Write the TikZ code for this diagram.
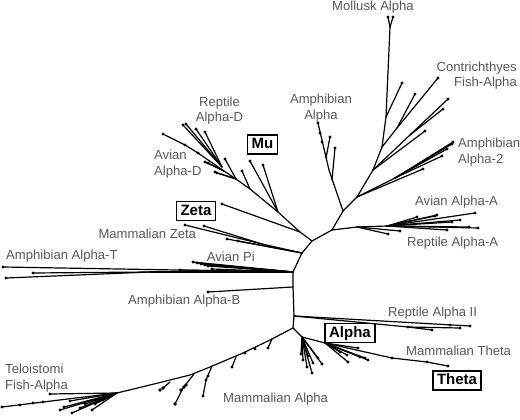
\documentclass[tikz,border=0pt]{standalone}
\usepackage{fontspec}
\setmainfont{Liberation Sans}
\usetikzlibrary{positioning}

\begin{document}
\begin{tikzpicture}[
  x=1pt, y=-1pt,
  branch/.style={line width=1.2pt, line cap=round, line join=round},
  lbl/.style={text=black!66, font=\fontsize{13.1}{15.5}\selectfont, inner sep=0pt},
  tag/.style={draw, line width=1.4pt, font=\bfseries\fontsize{15}{17}\selectfont,
              inner xsep=4pt, inner ysep=2.5pt, text height=11pt, text depth=3pt}
]
\useasboundingbox (0,0) rectangle (520,420);

% Central ring
\coordinate (n1) at (300,232);
\coordinate (c0) at (312,241);
\coordinate (p0) at (332,230);
\coordinate (q0) at (343,211);
\coordinate (r0) at (357,197);
\coordinate (s0) at (373,170);
\coordinate (t0) at (382,147);
\coordinate (d0) at (302,253);
\coordinate (e0) at (293,272);
\coordinate (f0) at (293,287);
\coordinate (g0) at (294,316);
\coordinate (h0) at (293,328);
\coordinate (k0) at (302,337);

\draw[branch] (n1) -- (c0) -- (p0) -- (q0) -- (r0) -- (s0) -- (t0);
\draw[branch] (c0) -- (d0) -- (e0) -- (f0) -- (g0) -- (h0) -- (k0);

% Mu, Reptile Alpha-D, Avian Alpha-D
\coordinate (mu0) at (278,212);
\coordinate (mu1) at (250,189);
\coordinate (mu2) at (236,179);
\coordinate (mu3) at (224,171);
\coordinate (rd0) at (222,167);
\draw[branch] (n1) -- (mu0) -- (mu1) -- (mu2) -- (mu3) -- (198,153) -- (185,145) -- (163,134);
\foreach \t in {(163,134),(185,145),(198,153)} \fill \t circle (1.6);
\foreach \t in {(250,161),(263,165)} {\draw[branch] (mu0) -- \t; \fill \t circle (1.6);}
\draw[branch] (mu1) -- (242,171); \fill (242,171) circle (1.6);
\draw[branch] (mu2) -- (225,159); \fill (225,159) circle (1.6);
\foreach \t in {(215,172),(217,173)} {\draw[branch] (mu2) -- \t; \fill \t circle (1.6);}
\foreach \t in {(205,162),(208,163)} {\draw[branch] (mu3) -- \t; \fill \t circle (1.6);}
\foreach \t in {(183,125),(186,124),(196,129),(205,132)} {\draw[branch] (rd0) -- \t; \fill \t circle (1.6);}

% Zeta and Mammalian Zeta
\draw[branch] (n1) -- (222,204); \fill (222,204) circle (1.6);
\coordinate (mz0) at (262,244);
\draw[branch] (d0) -- (mz0);
\foreach \t in {(185,225),(204,226)} {\draw[branch] (mz0) -- \t; \fill \t circle (1.6);}
\foreach \t in {(227,239),(238,241)} {\draw[branch] (d0) -- \t; \fill \t circle (1.6);}

% Amphibian Alpha-T, Avian Pi
\coordinate (at0) at (150,272);
\draw[branch] (e0) -- (3,267); \fill (3,267) circle (1.6);
\draw[branch] (e0) -- (at0);
\foreach \t in {(6,278),(33,273)} {\draw[branch] (at0) -- \t; \fill \t circle (1.6);}
\foreach \t in {(180,270),(212,269),(193,262),(197,263),(201,264),(205,265),(208,266)}
  {\draw[branch] (e0) -- \t; \fill \t circle (1.6);}

% Amphibian Alpha-B
\draw[branch] (f0) -- (208,292); \fill (208,292) circle (1.6);

% Reptile Alpha II
\coordinate (ra0) at (408,327);
\draw[branch] (g0) -- (470,326); \fill (470,326) circle (1.6); \fill (450,325) circle (1.6);
\draw[branch] (g0) -- (ra0) -- (460,328); \fill (ra0) circle (1.6); \fill (460,328) circle (1.6);
\draw[branch] (ra0) -- (432,330); \fill (432,330) circle (1.6);

% Theta, Mammalian Theta
\coordinate (th0) at (325,343);
\draw[branch] (k0) -- (th0) -- (392,358) -- (427,362) -- (448,366);
\foreach \t in {(392,358),(427,362),(448,366)} \fill \t circle (1.6);
\foreach \t in {(358,348),(368,360),(365,358),(360,357),(348,362),(347,355),(340,352)}
  {\draw[branch] (th0) -- \t; \fill \t circle (1.6);}

% Mammalian Alpha, near cluster
\foreach \t in {(301,354),(303,360),(307,367),(312,373),(313,363),(322,364),(318,358),(308,356)}
  {\draw[branch] (k0) -- \t; \fill \t circle (1.6);}

% Mammalian Alpha, long arm and Teloistomi
\coordinate (tf0) at (117,393);
\draw[branch] (h0) -- (270,340) -- (243,353) -- (210,367) -- (190,375) -- (150,385) -- (tf0) -- (2,407);
\foreach \t in {(2,407),(20,405),(33,403),(43,402),(255,349),(245,353)} \fill \t circle (1.6);
\draw[branch] (272,339) -- (268,348); \fill (268,348) circle (1.6);
\draw[branch] (236,357) -- (232,367); \fill (232,367) circle (1.6);
\draw[branch] (212,366) -- (206,380) -- (203,396);
\foreach \t in {(206,380),(208,376),(203,396)} \fill \t circle (1.6);
\draw[branch] (194,374) -- (183,388) -- (175,404);
\foreach \t in {(181,390),(184,387),(186,385),(175,404)} \fill \t circle (1.9);
\draw[branch] (170,382) -- (162,389);
\foreach \t in {(160,390),(163,388)} \fill \t circle (1.9);
\foreach \t in {(50,394),(60,410),(64,407),(72,413),(80,408),(92,410),(103,400),(70,401),(85,404),(95,404)}
  {\draw[branch] (tf0) -- \t; \fill \t circle (1.6);}

% Avian / Reptile Alpha-A
\coordinate (aa0) at (357,227);
\coordinate (aa1) at (387,226);
\draw[branch] (p0) -- (aa0) -- (aa1);
\foreach \t in {(475,213),(478,228),(469,227),(460,220),(447,230),(452,222),(435,216),(417,217),(437,215)}
  {\draw[branch] (aa1) -- \t; \fill \t circle (1.6);}
\foreach \t in {(400,231),(388,234)} {\draw[branch] (aa0) -- \t; \fill \t circle (1.6);}

% Amphibian Alpha
\draw[branch] (q0) -- (329,170) -- (318,123);
\foreach \t in {(318,123),(320,133),(322,142)} \fill \t circle (1.6);
\draw[branch] (332,180) -- (335,148); \fill (335,148) circle (1.6);
\draw[branch] (326,158) -- (330,137); \fill (330,137) circle (1.6);

% Amphibian Alpha-2
\coordinate (a20) at (395,178);
\draw[branch] (r0) -- (a20);
\foreach \t in {(453,142),(452,144),(447,149),(442,156)} {\draw[branch] (a20) -- \t; \fill \t circle (1.6);}
\draw[branch] (r0) -- (423,169); \fill (423,169) circle (1.6);
\draw[branch] (s0) -- (448,99); \fill (448,99) circle (1.6);
\draw[branch] (410,135) -- (443,109); \fill (443,109) circle (1.6);
\draw[branch] (s0) -- (425,131); \fill (425,131) circle (1.6);

% Contrichthyes and Mollusk
\coordinate (ct0) at (397,128);
\coordinate (mo0) at (386,117);
\coordinate (mo1) at (390,27);
\draw[branch] (t0) -- (ct0) -- (438,78); \fill (438,78) circle (1.6);
\draw[branch] (ct0) -- (415,94); \fill (415,94) circle (1.6);
\draw[branch] (t0) -- (mo0) -- (mo1);
\foreach \t in {(388,17),(393,17)} {\draw[branch] (mo1) -- \t; \fill \t circle (1.6);}
\draw[branch] (mo0) -- (402,83); \fill (402,83) circle (1.6);

% Labels
\node[lbl, anchor=north] (lmol) at (373,0.5) {Mollusk Alpha};
\node[lbl, anchor=north east, align=right] (lcon) at (517,61.5) {Contrichthyes\\Fish-Alpha};
\node[lbl, anchor=north, align=center] (lamph) at (321,94) {Amphibian\\Alpha};
\node[lbl, anchor=north west, align=left] (lamph2) at (458,138) {Amphibian\\Alpha-2};
\node[lbl, anchor=north west] (lavA) at (415,196) {Avian Alpha-A};
\node[lbl, anchor=north west] (lrepA) at (407,237) {Reptile Alpha-A};
\node[lbl, anchor=north west] (lrepII) at (388,306.5) {Reptile Alpha II};
\node[lbl, anchor=north west] (lmth) at (406,345.5) {Mammalian Theta};
\node[lbl, anchor=north west] (lmal) at (223,393) {Mammalian Alpha};
\node[lbl, anchor=north west, align=left] (ltel) at (5,364) {Teloistomi\\Fish-Alpha};
\node[lbl, anchor=north west] (lamB) at (128,295) {Amphibian Alpha-B};
\node[lbl, anchor=north west] (lpi) at (206.7,251.7) {Avian Pi};
\node[lbl, anchor=north west] (lamT) at (6,250) {Amphibian Alpha-T};
\node[lbl, anchor=north west] (lmz) at (98.3,229) {Mammalian Zeta};
\node[lbl, anchor=north west, align=left] (lavD) at (154,150) {Avian\\Alpha-D};
\node[lbl, anchor=north, align=center] (lrepD) at (219.5,96.7) {Reptile\\Alpha-D};

\node[tag] (mu) at (262.5,144.5) {Mu};
\node[tag] (zeta) at (196,211) {Zeta};
\node[tag] (alpha) at (350,333) {Alpha};
\node[tag] (theta) at (457,380.5) {Theta};
\end{tikzpicture}
\end{document}
